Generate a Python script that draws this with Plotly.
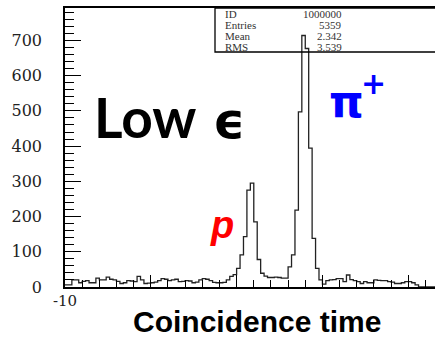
import numpy as np
import plotly.graph_objects as go

# ---------------- data ----------------
BIN_START = -10.0
BIN_WIDTH = 0.2

counts_left = [6, 6, 20, 20, 12, 16, 18, 12, 12, 25,
               20, 20, 28, 22, 20, 16, 10, 12, 18, 17,
               15, 30, 20, 10, 11, 12, 14, 18, 24, 22,
               18, 20, 22, 15, 16, 18, 17, 12, 14, 20,
               24, 22, 18, 13, 12, 12, 13, 20, 30, 35]
counts_peaks = [53, 91, 143, 275, 295, 185, 78, 39, 31, 27,
                27, 28, 27, 25, 25, 57, 91, 218, 497, 714,
                677, 394, 138, 53, 20]
counts_right = [8, 18, 20, 21, 24, 24, 15, 34, 21, 18,
                15, 10, 15, 12, 12, 20, 19, 18, 18, 15,
                14, 10, 10, 12, 15, 15, 12, 6]
counts_tail = [0, 0, 0, 0, 0]

y_tickvals = [0, 100, 200, 300, 400, 500, 600, 700]
x_tickvals = [-10, -5, 0, 5, 10]
x_label_val = -10
x_label_text = "-10"

stat_names = ["ID", "Entries", "Mean", "RMS"]
stat_values = ["1000000", "5359", "2.342", "3.539"]

counts = counts_left + counts_peaks + counts_right + counts_tail
edges = BIN_START + BIN_WIDTH * np.arange(len(counts) + 1)
xs = list(edges[:-1]) + [edges[-1]]
ys = list(counts) + [counts[-1]]

# ---------------- layout helpers ----------------
W, H = 435, 337
L, T, B = 65, 8, 287
R = 435


def px(xp):
    return (xp - L) / (R - L)


def py(yp):
    return (B - yp) / (B - T)


fig = go.Figure()
fig.add_trace(go.Scatter(x=xs, y=ys, mode="lines",
                         line=dict(shape="hv", color="#222222", width=1.3),
                         hoverinfo="skip", showlegend=False))

serif = "DejaVu Serif"
fig.update_layout(
    width=W, height=H,
    margin=dict(l=L, r=W - R, t=T, b=H - B),
    paper_bgcolor="white", plot_bgcolor="white",
    showlegend=False,
    xaxis=dict(range=[-10, 11.56], showgrid=False, zeroline=False,
               showline=True, linecolor="black", linewidth=1.5, mirror=True,
               ticks="inside", ticklen=12, tickwidth=1.2, tickcolor="black",
               tickvals=x_tickvals, showticklabels=False,
               minor=dict(dtick=1, tick0=-10, ticks="inside", ticklen=7,
                          tickwidth=1, tickcolor="black")),
    yaxis=dict(range=[0, 792], showgrid=False, zeroline=False,
               showline=True, linecolor="black", linewidth=1.5,
               ticks="inside", ticklen=16, tickwidth=1.2, tickcolor="black",
               tickvals=y_tickvals, ticklabelstandoff=18,
               tickfont=dict(family=serif, size=16, color="#222222"),
               minor=dict(dtick=20, tick0=0, ticks="inside", ticklen=9,
                          tickwidth=1, tickcolor="black")),
)

# x tick label (only -10 is visible in the reference)
fig.add_annotation(x=x_label_val, y=py(301), xref="x", yref="paper",
                   text=x_label_text, showarrow=False, xanchor="center", yanchor="middle",
                   font=dict(family=serif, size=15, color="#222222"))

# stats box
fig.add_shape(type="rect", xref="paper", yref="paper",
              x0=px(215), x1=px(440), y0=py(52), y1=py(8),
              line=dict(color="black", width=1.3), fillcolor="rgba(0,0,0,0)")
for i, (n, v) in enumerate(zip(stat_names, stat_values)):
    yy = 14 + 11 * i
    fig.add_annotation(x=px(223), y=py(yy), xref="paper", yref="paper",
                       text=n, showarrow=False, xanchor="left", yanchor="middle",
                       font=dict(family="Liberation Serif", size=11, color="#333"))
    fig.add_annotation(x=px(344), y=py(yy), xref="paper", yref="paper",
                       text=v, showarrow=False, xanchor="right", yanchor="middle",
                       font=dict(family="Liberation Serif", size=11, color="#333"))

# big labels
fig.add_annotation(x=px(92), y=py(117), xref="paper", yref="paper",
                   text="<b>Low</b>", showarrow=False, xanchor="left", yanchor="middle",
                   font=dict(family="Lato", size=55, color="black"))
fig.add_annotation(x=px(229), y=py(121), xref="paper", yref="paper",
                   text="<b>ϵ</b>", showarrow=False, xanchor="center", yanchor="middle",
                   font=dict(family="DejaVu Sans", size=50, color="black"))
fig.add_annotation(x=px(346), y=py(101), xref="paper", yref="paper",
                   text="<b>π</b>", showarrow=False, xanchor="center", yanchor="middle",
                   font=dict(family="DejaVu Sans", size=44, color="#0000FF"))
fig.add_annotation(x=px(373), y=py(83), xref="paper", yref="paper",
                   text="<b>+</b>", showarrow=False, xanchor="center", yanchor="middle",
                   font=dict(family="DejaVu Sans", size=30, color="#0000FF"))
fig.add_annotation(x=px(222), y=py(225), xref="paper", yref="paper",
                   text="<b><i>p</i></b>", showarrow=False, xanchor="center", yanchor="middle",
                   font=dict(family="Liberation Sans", size=38, color="#FF0000"))
fig.add_annotation(x=px(257), y=py(321), xref="paper", yref="paper",
                   text="<b>Coincidence time</b>", showarrow=False, xanchor="center", yanchor="middle",
                   font=dict(family="Liberation Sans", size=30, color="black"))

fig.write_html("out.html")
